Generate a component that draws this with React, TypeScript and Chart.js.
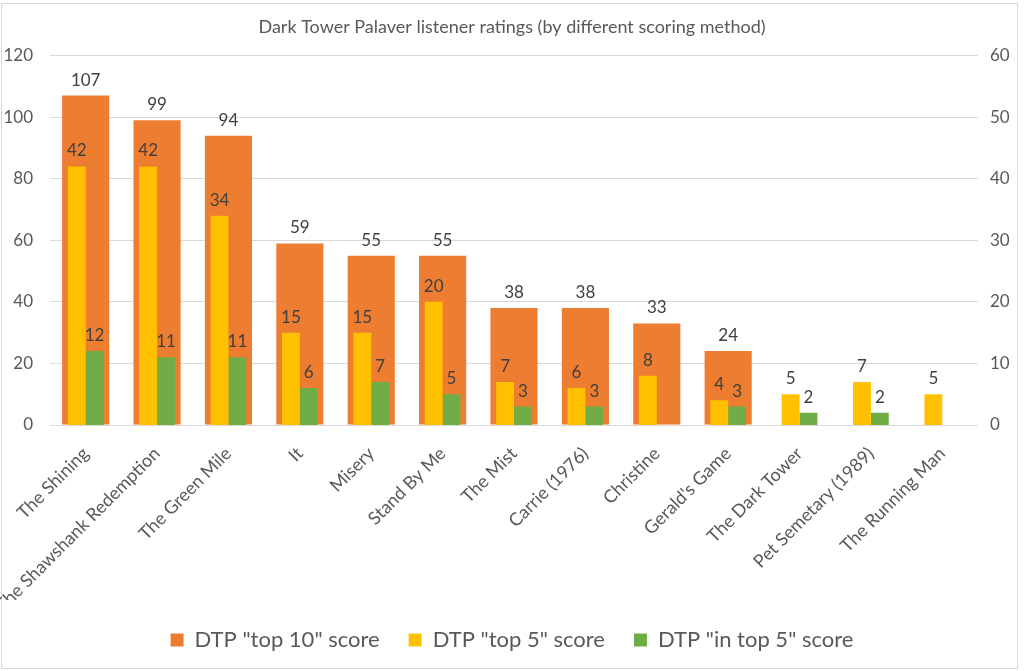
import { useEffect, useRef } from "react"
import { Chart, registerables } from "chart.js"

Chart.register(...registerables)

const FONT = "Lato, 'DejaVu Sans', sans-serif"

const movies = [
  "The Shining",
  "The Shawshank Redemption",
  "The Green Mile",
  "It",
  "Misery",
  "Stand By Me",
  "The Mist",
  "Carrie (1976)",
  "Christine",
  "Gerald's Game",
  "The Dark Tower",
  "Pet Semetary (1989)",
  "The Running Man",
]

const top10Score = [107, 99, 94, 59, 55, 55, 38, 38, 33, 24, null, null, null]
const top5Score = [42, 42, 34, 15, 15, 20, 7, 6, 8, 4, 5, 7, 5]
const inTop5Score = [12, 11, 11, 6, 7, 5, 3, 3, null, 3, 2, 2, null]

const leftTicks = [0, 20, 40, 60, 80, 100, 120]
const rightTicks = [0, 10, 20, 30, 40, 50, 60]

// draws the value above each bar
const barLabels = {
  id: "barLabels",
  afterDatasetsDraw(chart: any) {
    const { ctx } = chart
    ctx.save()
    ctx.font = `17px ${FONT}`
    ctx.fillStyle = "#404040"
    ctx.textAlign = "center"
    ctx.textBaseline = "bottom"
    chart.data.datasets.forEach((ds: any, i: number) => {
      const meta = chart.getDatasetMeta(i)
      meta.data.forEach((bar: any, j: number) => {
        const v = ds.data[j]
        if (v == null) return
        ctx.fillText(String(v), bar.x, bar.y - 7)
      })
    })
    ctx.restore()
  },
}

const App = () => {
  const chartRef = useRef<HTMLCanvasElement>(null)
  const chartInstance = useRef<Chart | null>(null)

  useEffect(() => {
    if (!chartRef.current) return
    if (chartInstance.current) chartInstance.current.destroy()

    const ctx = chartRef.current.getContext("2d")
    if (!ctx) return

    chartInstance.current = new Chart(ctx, {
      type: "bar",
      data: {
        labels: movies,
        datasets: [
          {
            label: 'DTP "top 10" score',
            data: top10Score,
            backgroundColor: "#ED7D31",
            yAxisID: "y",
            grouped: false,
            barPercentage: 0.66,
            categoryPercentage: 1,
            order: 2,
          },
          {
            label: 'DTP "top 5" score',
            data: top5Score,
            backgroundColor: "#FFC000",
            yAxisID: "y1",
            barPercentage: 1,
            categoryPercentage: 0.5,
            order: 1,
          },
          {
            label: 'DTP "in top 5" score',
            data: inTop5Score,
            backgroundColor: "#70AD47",
            yAxisID: "y1",
            barPercentage: 1,
            categoryPercentage: 0.5,
            order: 1,
          },
        ] as any,
      },
      options: {
        responsive: true,
        maintainAspectRatio: false,
        animation: false,
        layout: { padding: { left: 0, right: 0, top: 0, bottom: 10 } },
        plugins: {
          title: {
            display: true,
            text: "Dark Tower Palaver listener ratings (by different scoring method)",
            color: "#595959",
            font: { family: FONT, size: 18, weight: "normal" },
            padding: { top: 16, bottom: 18 },
          },
          legend: {
            position: "bottom",
            labels: {
              color: "#595959",
              font: { family: FONT, size: 22 },
              boxWidth: 13,
              boxHeight: 13,
              padding: 29,
              sort: (a: any, b: any) => a.datasetIndex - b.datasetIndex,
            },
          },
          tooltip: { enabled: false },
        },
        scales: {
          x: {
            grid: { display: false },
            border: { display: false },
            afterFit: (axis: any) => {
              axis.height = 175
            },
            ticks: {
              color: "#595959",
              font: { family: FONT, size: 18 },
              minRotation: 45,
              maxRotation: 45,
              autoSkip: false,
              padding: 10,
            },
          },
          y: {
            position: "left",
            min: leftTicks[0],
            max: leftTicks[leftTicks.length - 1],
            afterBuildTicks: (axis: any) => {
              axis.ticks = leftTicks.map((value) => ({ value }))
            },
            afterFit: (axis: any) => {
              axis.width = 50
            },
            grid: { color: "#d9d9d9", drawTicks: false },
            border: { display: false },
            ticks: {
              color: "#595959",
              font: { family: FONT, size: 17 },
              padding: 17,
            },
          },
          y1: {
            position: "right",
            min: rightTicks[0],
            max: rightTicks[rightTicks.length - 1],
            afterBuildTicks: (axis: any) => {
              axis.ticks = rightTicks.map((value) => ({ value }))
            },
            afterFit: (axis: any) => {
              axis.width = 46
            },
            grid: { display: false, drawTicks: false },
            border: { display: false },
            ticks: {
              color: "#595959",
              font: { family: FONT, size: 17 },
              padding: 12,
            },
          },
        },
      },
      plugins: [barLabels],
    })

    return () => {
      if (chartInstance.current) {
        chartInstance.current.destroy()
        chartInstance.current = null
      }
    }
  }, [])

  return (
    <div style={{ position: "fixed", left: 0, top: 0, width: 1024, height: 671, background: "#fff", overflow: "hidden" }}>
      <div
        style={{
          position: "absolute",
          left: 1,
          top: 3,
          width: 1017,
          height: 666,
          border: "1px solid #d9d9d9",
          boxSizing: "border-box",
        }}
      />
      <div style={{ position: "absolute", left: 0, top: 0, width: 1024, height: 671 }}>
        <canvas ref={chartRef}></canvas>
      </div>
    </div>
  )
}

export default App
